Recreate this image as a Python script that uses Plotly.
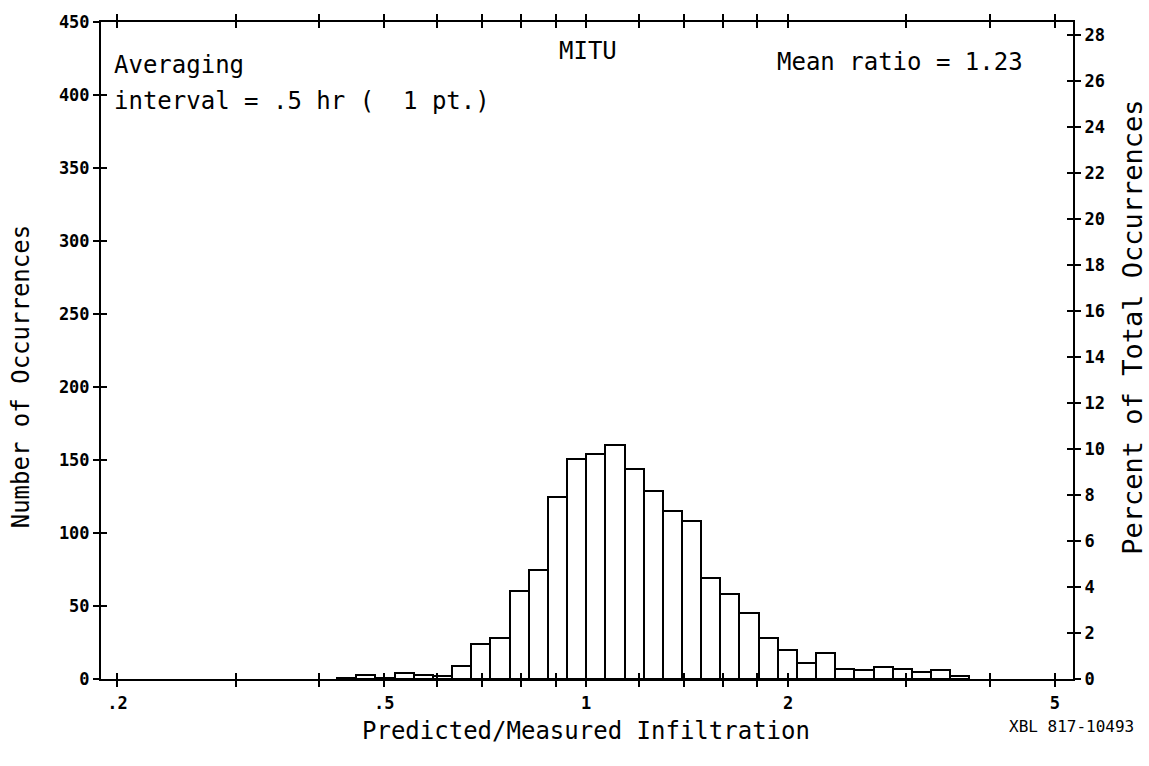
import math
import plotly.graph_objects as go

# ---------------- data ----------------
# Histogram of Predicted/Measured infiltration ratio (log-spaced bins, 35 per decade)
BINS_PER_DECADE = 35
FIRST_BIN_INDEX = -13          # first bin starts at 10**(-13/35)
COUNTS = [1, 3, 1, 4, 3, 2, 9, 24, 28, 60, 75, 125, 151,
          154, 160, 144, 129, 115, 108, 69, 58, 45, 28, 20, 11, 18,
          7, 6, 8, 7, 5, 6, 2]

X_TICK_VALS = [0.2, 0.3, 0.4, 0.5, 0.6, 0.7, 0.8, 0.9, 1.0, 1.2, 1.4, 1.6, 1.8, 2, 3, 4, 5]
X_TICK_TEXT = [".2", "", "", ".5", "", "", "", "", "1", "", "", "", "", "2", "", "", "5"]
Y_TICKS = [0, 50, 100, 150, 200, 250, 300, 350, 400, 450]
Y2_TICKS = [0, 2, 4, 6, 8, 10, 12, 14, 16, 18, 20, 22, 24, 26, 28]

TITLE_X = "Predicted/Measured Infiltration"
TITLE_Y = "Number of Occurrences"
TITLE_Y2 = "Percent of Total Occurrences"
TEXT_TL1 = "Averaging"
TEXT_TL2 = "interval = .5 hr (\u00a0 1 pt.)"
TEXT_TOP = "MITU"
TEXT_TR = "Mean ratio = 1.23"
TEXT_REF = "XBL 817-10493"

# ---------------- layout geometry ----------------
W, H = 1149, 766
L, R, T, B = 101, 1073, 17, 679
X_RANGE = [math.log10(0.189), math.log10(5.32)]
Y_RANGE = [0, 450]
Y2_RANGE = [0, 28.58]

edges_lo = [10 ** ((FIRST_BIN_INDEX + i) / BINS_PER_DECADE) for i in range(len(COUNTS))]
edges_hi = [10 ** ((FIRST_BIN_INDEX + i + 1) / BINS_PER_DECADE) for i in range(len(COUNTS))]
centers = [(a + b) / 2 for a, b in zip(edges_lo, edges_hi)]
widths = [b - a for a, b in zip(edges_lo, edges_hi)]

MONO = "DejaVu Sans Mono"
TICKFONT = dict(family=MONO, size=17, color="black", weight="bold")
TXTFONT = dict(family=MONO, size=24, color="black")

fig = go.Figure()
fig.add_trace(go.Bar(
    x=centers, y=COUNTS, width=widths,
    marker=dict(color="white", line=dict(color="black", width=2)),
    xaxis="x", yaxis="y", hoverinfo="x+y", showlegend=False,
))
# helper (empty) traces so overlay axes exist
fig.add_trace(go.Scatter(x=[], y=[], xaxis="x", yaxis="y2", showlegend=False, hoverinfo="skip"))
fig.add_trace(go.Scatter(x=[], y=[], xaxis="x2", yaxis="y3", showlegend=False, hoverinfo="skip"))
fig.add_trace(go.Scatter(x=[], y=[], xaxis="x2", yaxis="y4", showlegend=False, hoverinfo="skip"))

TL = 6
common_line = dict(showline=True, linecolor="black", linewidth=2, showgrid=False, zeroline=False)

fig.update_layout(
    width=W, height=H,
    margin=dict(l=L, r=W - R, t=T, b=H - B, pad=0),
    paper_bgcolor="white", plot_bgcolor="white",
    bargap=0,
    xaxis=dict(type="log", range=X_RANGE, tickvals=X_TICK_VALS, ticktext=X_TICK_TEXT,
               ticks="outside", ticklen=TL, tickwidth=1.5, tickcolor="black",
               mirror="ticks", tickfont=TICKFONT, ticklabelstandoff=2, **common_line),
    xaxis2=dict(type="log", range=X_RANGE, overlaying="x", anchor="y3", side="bottom",
                tickvals=X_TICK_VALS, showticklabels=False,
                ticks="inside", ticklen=TL, tickwidth=1.5, tickcolor="black",
                mirror="ticks", showline=False, showgrid=False, zeroline=False),
    yaxis=dict(range=Y_RANGE, tickvals=Y_TICKS, ticks="outside", ticklen=TL, tickwidth=1.5,
               tickcolor="black", tickfont=TICKFONT, **common_line),
    yaxis2=dict(range=Y2_RANGE, overlaying="y", side="right", anchor="x", tickvals=Y2_TICKS,
                ticks="outside", ticklen=TL, tickwidth=1.5, tickcolor="black",
                tickfont=TICKFONT, **common_line),
    yaxis3=dict(range=Y_RANGE, overlaying="y", side="left", anchor="x2", tickvals=Y_TICKS,
                showticklabels=False, ticks="inside", ticklen=TL, tickwidth=1.5, tickcolor="black",
                showline=False, showgrid=False, zeroline=False),
    yaxis4=dict(range=Y2_RANGE, overlaying="y", side="right", anchor="x2", tickvals=Y2_TICKS,
                showticklabels=False, ticks="inside", ticklen=TL, tickwidth=1.5, tickcolor="black",
                showline=False, showgrid=False, zeroline=False),
)


def px(x):
    return (x - L) / (R - L)


def py(y):
    return (B - y) / (B - T)


ann = [
    (TEXT_TL1, 112, 60, "left", 0, TXTFONT),
    (TEXT_TL2, 112, 97, "left", 0, TXTFONT),
    (TEXT_TOP, 588, 46, "center", 0, TXTFONT),
    (TEXT_TR, 1025, 57, "right", 0, TXTFONT),
    (TITLE_X, 586, 731, "center", 0, TXTFONT),
    (TITLE_Y, 21, 375, "center", -90, TXTFONT),
    (TITLE_Y2, 1133, 325, "center", -90, dict(family=MONO, size=27, color="black")),
    (TEXT_REF, 1136, 727, "right", 0, dict(family=MONO, size=16, color="black")),
]
for text, x, y, xa, ang, f in ann:
    fig.add_annotation(text=text, x=px(x), y=py(y), xref="paper", yref="paper",
                       xanchor=xa, yanchor="middle", showarrow=False, textangle=ang,
                       font=f)

fig.write_html("out.html")
